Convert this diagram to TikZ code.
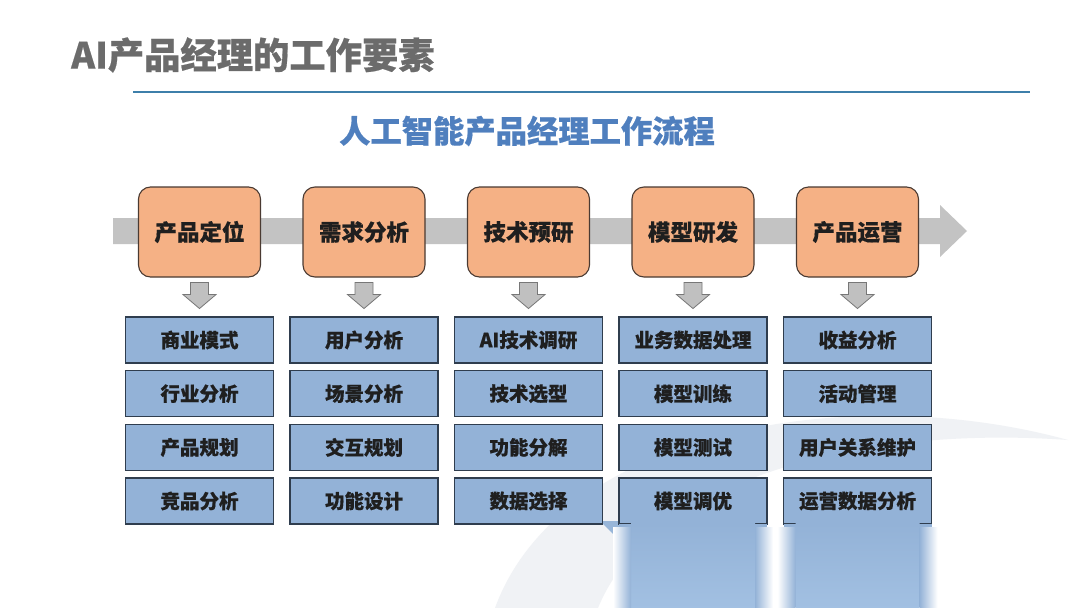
\documentclass[tikz,border=0pt]{standalone}
\usepackage{fontspec}
\setmainfont{Noto Sans CJK SC}[BoldFeatures={FakeBold=0.5}]
\usetikzlibrary{calc}
\definecolor{titlegray}{HTML}{6B6B6B}
\definecolor{rulecolor}{HTML}{3D7FAA}
\definecolor{subtitleblue}{HTML}{4F7FBE}
\definecolor{flowgray}{HTML}{C3C3C3}
\definecolor{stagefill}{HTML}{F5B185}
\definecolor{stageborder}{HTML}{4A3A32}
\definecolor{taskfill}{HTML}{93B2D7}
\definecolor{taskborder}{HTML}{2F3D4E}
\definecolor{arrowgray}{HTML}{C0C0C0}
\definecolor{arrowedge}{HTML}{777777}
\definecolor{swoosh}{HTML}{F0F2F5}
\definecolor{reflbottom}{HTML}{A2C0E2}
\begin{document}
\begin{tikzpicture}[x=1pt,y=-1pt,
  stagebox/.style={draw=stageborder, line width=1.1pt, fill=stagefill, rounded corners=12pt,
    minimum width=122pt, minimum height=90pt, inner sep=0pt, text=black!88,
    font=\bfseries\fontsize{22.5}{24}\selectfont},
  taskbox/.style={draw=taskborder, line width=1.1pt, fill=taskfill,
    minimum width=148pt, minimum height=46pt, inner sep=0pt, text=black!88,
    font=\bfseries\fontsize{19.5}{21}\selectfont},
  downarrow/.style={fill=arrowgray, draw=arrowedge, line width=0.8pt},
  blockdown/.pic={\path[downarrow] (-9,0) -- (9,0) -- (9,12) -- (16.5,12) -- (0,26) -- (-16.5,12) -- (-9,12) -- cycle;}
]
\useasboundingbox (0,0) rectangle (1080,608);
\fill[white] (0,0) rectangle (1080,608);

% faint background swoosh
\fill[swoosh] (495,608) .. controls (560,430) and (850,380) .. (1068,440)
  .. controls (860,425) and (650,480) .. (598,608) -- cycle;
\fill[taskfill!95!white] (600,521) -- (620,521) -- (620,608) -- (688,608) -- cycle;

% titles
\node[anchor=west, inner sep=0pt, text=titlegray, font=\bfseries\fontsize{36.3}{38}\selectfont] (title) at (71,55) {AI产品经理的工作要素};
\coordinate (ruleL) at (133,92);
\coordinate (ruleR) at (1030,92);
\draw[rulecolor, line width=1.3pt] (ruleL) -- (ruleR);
\node[inner sep=0pt, text=subtitleblue, font=\bfseries\fontsize{31.3}{33}\selectfont] (subtitle) at (527,131) {人工智能产品经理工作流程};

% flow arrow
\fill[flowgray] (113,218) -- (940,218) -- (940,205) -- (967,231) -- (940,257) -- (940,244) -- (113,244) -- cycle;

% stages
\foreach \i/\cx/\name in {1/199.5/产品定位, 2/364/需求分析, 3/528.5/技术预研, 4/693/模型研发, 5/857.5/产品运营}{
  \node[stagebox] (s\i) at (\cx,232) {\name};
  \pic at ($(s\i.south)+(0,5)$) {blockdown};
}

% tasks
\foreach \i/\cx/\a/\b/\c/\d in {
  1/199.5/商业模式/行业分析/产品规划/竞品分析,
  2/364/用户分析/场景分析/交互规划/功能设计,
  3/528.5/AI技术调研/技术选型/功能分解/数据选择,
  4/693/业务数据处理/模型训练/模型测试/模型调优,
  5/857.5/收益分析/活动管理/用户关系维护/运营数据分析}{
  \node[taskbox] (t\i a) at (\cx,340) {\a};
  \node[taskbox] (t\i b) at (\cx,393.7) {\b};
  \node[taskbox] (t\i c) at (\cx,447.4) {\c};
  \node[taskbox] (t\i d) at (\cx,501) {\d};
}

% reflections
\foreach \cx in {693,857.5}{
  \shade[top color=taskfill, bottom color=reflbottom] (\cx-62,523.5) rectangle (\cx+62,608);
  \shade[left color=white, right color=taskfill] (\cx-80,527) rectangle (\cx-62,608);
  \shade[left color=taskfill, right color=white] (\cx+62,527) rectangle (\cx+80,608);
  \fill[taskfill] (\cx-74,523.5) rectangle (\cx-62,527);
  \fill[taskfill] (\cx+62,523.5) rectangle (\cx+74,527);
}
\end{tikzpicture}
\end{document}
